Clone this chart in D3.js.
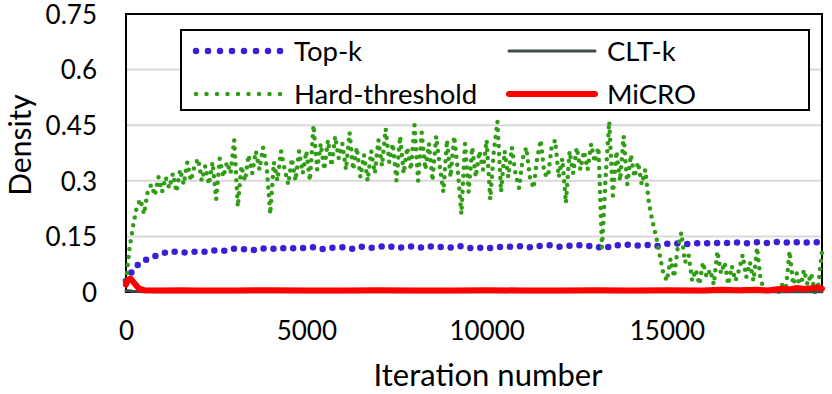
<!DOCTYPE html>
<html>
<head>
<meta charset="utf-8">
<script src="https://cdn.jsdelivr.net/npm/d3@7"></script>
<style>
  body { margin: 0; background: #fff; }
  text { font-family: Lato, "Open Sans", sans-serif; fill: #000; }
</style>
</head>
<body>
<div id="chart"></div>
<script>
// series names and axis ticks
const seriesNames = ["Top-k", "CLT-k", "Hard-threshold", "MiCRO"];
const yTicks = [0, 0.15, 0.3, 0.45, 0.6, 0.75];
const xTicks = [0, 5000, 10000, 15000];

// Hard-threshold, one value every 100 iterations (0 .. 19300)
const hardStep = 100;
const hardThreshold = [
  0.03,0.12,0.18,0.23,0.25,0.21,0.27,0.29,0.26,0.31,
  0.27,0.31,0.28,0.32,0.27,0.33,0.29,0.35,0.30,0.34,
  0.36,0.30,0.34,0.29,0.35,0.25,0.36,0.31,0.35,0.32,
  0.41,0.23,0.34,0.30,0.37,0.32,0.38,0.33,0.39,0.34,
  0.21,0.35,0.30,0.38,0.33,0.29,0.36,0.30,0.38,0.32,
  0.38,0.30,0.45,0.33,0.40,0.33,0.41,0.34,0.42,0.36,
  0.40,0.33,0.43,0.33,0.39,0.31,0.37,0.30,0.38,0.32,
  0.41,0.34,0.44,0.35,0.40,0.30,0.42,0.32,0.39,0.33,
  0.45,0.30,0.43,0.33,0.40,0.30,0.42,0.34,0.27,0.41,
  0.31,0.42,0.33,0.21,0.40,0.27,0.39,0.31,0.38,0.33,
  0.41,0.25,0.38,0.46,0.27,0.38,0.31,0.39,0.32,0.28,
  0.36,0.39,0.31,0.28,0.36,0.41,0.32,0.31,0.39,0.41,
  0.31,0.36,0.24,0.38,0.32,0.39,0.33,0.38,0.33,0.40,
  0.35,0.39,0.12,0.31,0.46,0.26,0.38,0.30,0.42,0.29,
  0.37,0.31,0.35,0.29,0.33,0.24,0.19,0.15,0.10,0.05,
  0.03,0.09,0.04,0.12,0.16,0.08,0.10,0.03,0.06,0.02,
  0.08,0.04,0.06,0.02,0.11,0.05,0.08,0.02,0.07,0.03,
  0.06,0.10,0.04,0.08,0.03,0.12,0.03,0.01,0.00,0.00,
  0.01,0.00,0.02,0.01,0.11,0.02,0.05,0.01,0.06,0.02,
  0.05,0.00,0.02,0.11
];

// Top-k, one value every 250 iterations (0 .. 19250)
const topkStep = 250;
const topk = [
  0.03,0.068,0.085,0.095,0.104,0.11,0.106,0.107,0.11,0.108,
  0.113,0.111,0.117,0.116,0.112,0.118,0.115,0.12,0.116,0.12,
  0.118,0.122,0.115,0.12,0.121,0.116,0.123,0.119,0.121,0.125,
  0.118,0.122,0.123,0.119,0.124,0.121,0.12,0.124,0.118,0.12,
  0.117,0.122,0.121,0.123,0.124,0.12,0.125,0.126,0.122,0.124,
  0.127,0.123,0.125,0.116,0.127,0.126,0.128,0.125,0.127,0.124,
  0.13,0.131,0.129,0.132,0.13,0.133,0.131,0.133,0.134,0.131,
  0.134,0.132,0.135,0.133,0.135,0.133,0.134,0.134
];

// MiCRO
const microIter = [0,60,130,220,350,500,1000,1500,2000,3000,4000,5000,6000,7000,8000,
  9000,10000,11000,12000,13000,14000,15000,16000,16500,17000,17500,17800,18000,18200,18400,
  18600,18800,19000,19150,19300];
const micro = [0.02,0.034,0.036,0.025,0.01,0.005,0.004,0.005,0.004,0.004,0.005,0.004,0.004,0.005,0.004,
  0.004,0.005,0.004,0.004,0.005,0.004,0.005,0.004,0.006,0.005,0.006,0.004,0.007,0.009,0.007,
  0.011,0.008,0.01,0.012,0.009];

// CLT-k
const cltIter = [0, 200, 500, 19300];
const clt = [0.004, 0.002, 0.001, 0.001];

const width = 832, height = 394;
const plot = { left: 126, right: 822, top: 14, bottom: 292 };

const svg = d3.select("#chart").append("svg")
  .attr("width", width)
  .attr("height", height);

const x = d3.scaleLinear().domain([0, 19300]).range([plot.left, plot.right]);
const y = d3.scaleLinear().domain([0, 0.75]).range([plot.bottom, plot.top]);

// gridlines
svg.append("g").selectAll("line")
  .data(yTicks.filter(d => d > 0 && d < 0.75))
  .enter().append("line")
  .attr("x1", plot.left).attr("x2", plot.right)
  .attr("y1", d => y(d)).attr("y2", d => y(d))
  .attr("stroke", "#d9d9d9").attr("stroke-width", 2);

// plot frame
svg.append("rect")
  .attr("x", plot.left).attr("y", plot.top)
  .attr("width", plot.right - plot.left).attr("height", plot.bottom - plot.top)
  .attr("fill", "none").attr("stroke", "#000").attr("stroke-width", 2);

// axes (labels only)
const yAxis = svg.append("g")
  .attr("transform", "translate(" + (plot.left - 29) + ",0)")
  .call(d3.axisLeft(y).tickValues(yTicks).tickSize(0).tickPadding(0)
    .tickFormat(d => d3.format("")(+d.toFixed(2))));
yAxis.select(".domain").remove();
yAxis.selectAll("text").attr("font-size", 26).attr("dy", "0.36em").attr("x", 0);

const xAxis = svg.append("g")
  .attr("transform", "translate(0," + plot.bottom + ")")
  .call(d3.axisBottom(x).tickValues(xTicks).tickSize(0).tickPadding(0).tickFormat(d3.format("d")));
xAxis.select(".domain").remove();
xAxis.selectAll("text").attr("font-size", 26).attr("dy", 0).attr("y", 48);

// axis titles
svg.append("text")
  .attr("x", 488).attr("y", 386)
  .attr("text-anchor", "middle")
  .attr("font-size", 31)
  .text("Iteration number");

svg.append("text")
  .attr("transform", "translate(31,145) rotate(-90)")
  .attr("text-anchor", "middle")
  .attr("font-size", 30)
  .text("Density");

// series
const line = d3.line().x(d => x(d[0])).y(d => y(d[1]));

const hardData = hardThreshold.map((v, i) => [i * hardStep, v]);
const topkData = topk.map((v, i) => [i * topkStep, v]);
const microData = microIter.map((t, i) => [t, micro[i]]);
const cltData = cltIter.map((t, i) => [t, clt[i]]);

const styles = {
  "Top-k": { color: "#3a1fd6", width: 6.5, dash: "0,10", legendDash: "0,12" },
  "Hard-threshold": { color: "#2f9e14", width: 4.5, dash: "0,8", legendDash: "0,10.5" },
  "CLT-k": { color: "#3e4b4b", width: 3, dash: null },
  "MiCRO": { color: "#ff0000", width: 6, dash: null }
};

function drawSeries(data, name) {
  const s = styles[name];
  svg.append("path")
    .datum(data)
    .attr("d", line)
    .attr("fill", "none")
    .attr("stroke", s.color)
    .attr("stroke-width", s.width)
    .attr("stroke-linecap", "round")
    .attr("stroke-linejoin", "round")
    .attr("stroke-dasharray", s.dash);
}

drawSeries(topkData, "Top-k");
drawSeries(hardData, "Hard-threshold");
drawSeries(cltData, "CLT-k");
drawSeries(microData, "MiCRO");

// legend
const legend = svg.append("g");
legend.append("rect")
  .attr("x", 181).attr("y", 30).attr("width", 628).attr("height", 80)
  .attr("fill", "#fff").attr("stroke", "#000").attr("stroke-width", 2);

const legendPos = {
  "Top-k": [196, 51],
  "CLT-k": [509, 51],
  "Hard-threshold": [196, 94],
  "MiCRO": [509, 94]
};

seriesNames.forEach(name => {
  const s = styles[name];
  const p = legendPos[name];
  legend.append("line")
    .attr("x1", p[0]).attr("x2", p[0] + 86)
    .attr("y1", p[1]).attr("y2", p[1])
    .attr("stroke", s.color)
    .attr("stroke-width", s.width)
    .attr("stroke-linecap", "round")
    .attr("stroke-dasharray", s.legendDash || null);
  legend.append("text")
    .attr("x", p[0] + 98).attr("y", p[1])
    .attr("dy", "0.36em")
    .attr("font-size", 27.5)
    .text(name);
});
</script>
</body>
</html>
